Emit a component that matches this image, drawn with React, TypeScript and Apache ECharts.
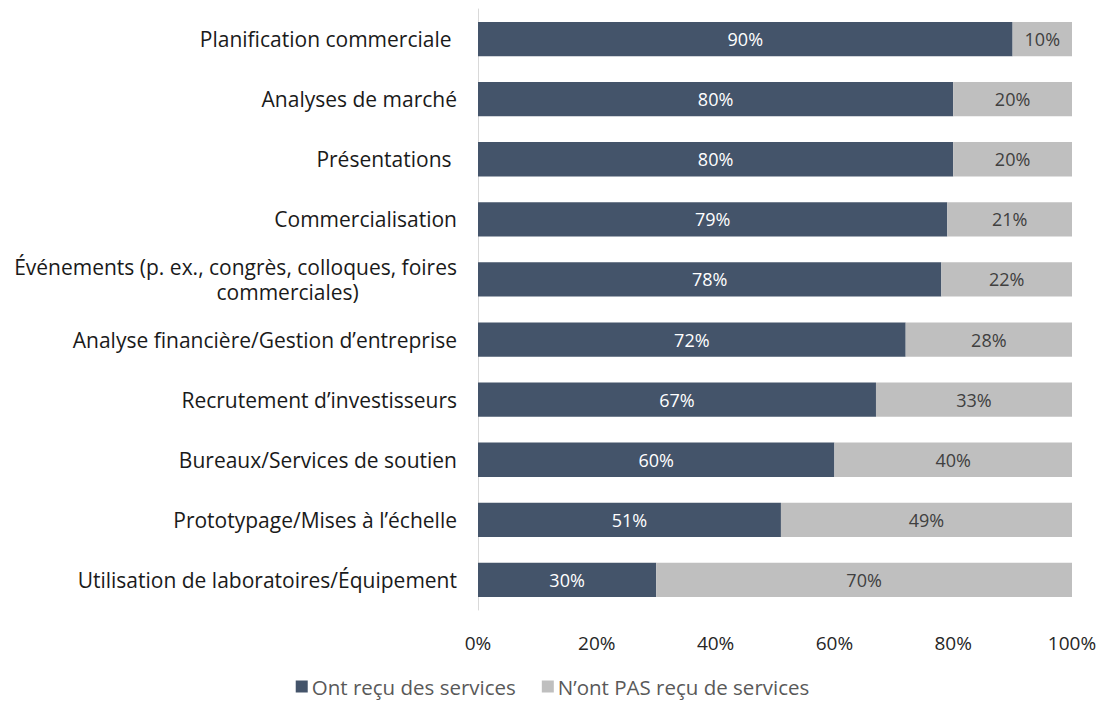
import React, { useEffect, useRef } from "react";
import * as echarts from "echarts";

const categories = [
  "Planification commerciale ",
  "Analyses de marché",
  "Présentations ",
  "Commercialisation",
  "Événements (p. ex., congrès, colloques, foires\ncommerciales)",
  "Analyse financière/Gestion d’entreprise",
  "Recrutement d’investisseurs",
  "Bureaux/Services de soutien",
  "Prototypage/Mises à l’échelle",
  "Utilisation de laboratoires/Équipement",
];
const received = [90, 80, 80, 79, 78, 72, 67, 60, 51, 30];
const notReceived = [10, 20, 20, 21, 22, 28, 33, 40, 49, 70];
const seriesNames = ["Ont reçu des services", "N’ont PAS reçu de services"];
const xTicks = [0, 20, 40, 60, 80, 100];

const FONT = "'Open Sans', sans-serif";

export default function App() {
  const ref = useRef<HTMLDivElement>(null);
  useEffect(() => {
    const chart = echarts.init(ref.current!, null, { renderer: "svg" });
    chart.setOption({
      animation: false,
      textStyle: { fontFamily: FONT },
      grid: { left: 478, right: 33, top: 9, bottom: 94, containLabel: false },
      legend: {
        top: 676,
        left: "center",
        padding: 0,
        itemWidth: 12,
        itemHeight: 12,
        itemGap: 26,
        icon: "rect",
        textStyle: { fontSize: 20.5, color: "#595959", fontFamily: FONT, padding: [0, 0, 0, -1] },
        data: seriesNames,
      },
      xAxis: {
        type: "value",
        min: xTicks[0],
        max: xTicks[xTicks.length - 1],
        interval: 20,
        axisLine: { show: false },
        axisTick: { show: false },
        splitLine: { show: false },
        axisLabel: {
          formatter: (v: number) => v + "%",
          fontSize: 19,
          color: "#262626",
          margin: 23,
          fontFamily: FONT,
        },
      },
      yAxis: {
        type: "category",
        inverse: true,
        data: categories,
        axisLine: { show: true, lineStyle: { color: "#D9D9D9", width: 1 } },
        axisTick: { show: false },
        axisLabel: {
          fontSize: 21,
          color: "#1a1a1a",
          margin: 21,
          lineHeight: 25,
          fontFamily: FONT,
          formatter: (v: string) => {
            const parts = v.split("\n");
            if (parts.length > 1) {
              return parts[0] + "\n" + parts[1] + "\u00a0".repeat(18);
            }
            return v;
          },
        },
      },
      series: [
        {
          name: seriesNames[0],
          type: "bar",
          stack: "total",
          data: received,
          barCategoryGap: "43%",
          itemStyle: { color: "#44546A" },
          label: {
            show: true,
            position: "inside",
            formatter: (p: any) => p.value + "%",
            color: "#FFFFFF",
            fontSize: 18,
            fontFamily: FONT,
          },
        },
        {
          name: seriesNames[1],
          type: "bar",
          stack: "total",
          data: notReceived,
          barCategoryGap: "43%",
          itemStyle: { color: "#BFBFBF" },
          label: {
            show: true,
            position: "inside",
            formatter: (p: any) => p.value + "%",
            color: "#404040",
            fontSize: 18,
            fontFamily: FONT,
          },
        },
      ],
    });
    return () => chart.dispose();
  }, []);
  return <div ref={ref} style={{ width: 1105, height: 704, position: "absolute", left: 0, top: 0 }} />;
}
